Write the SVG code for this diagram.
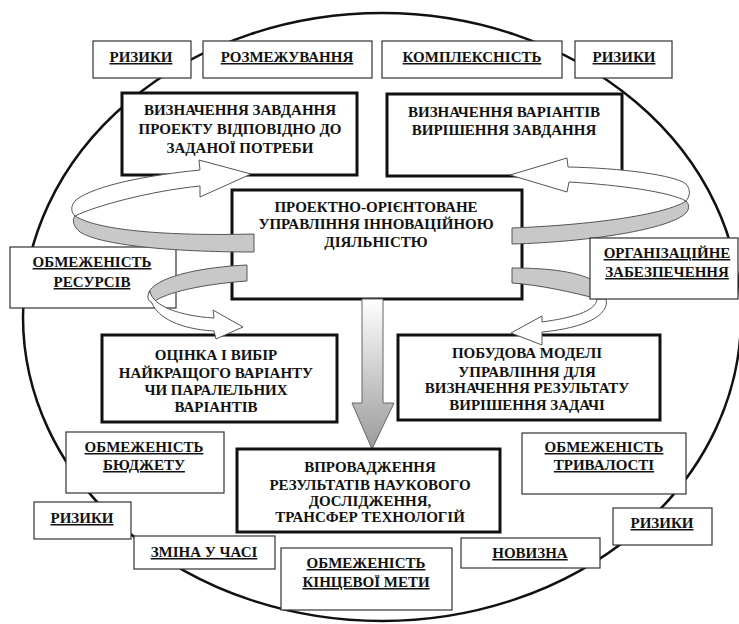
<svg xmlns="http://www.w3.org/2000/svg" width="739" height="624" viewBox="0 0 739 624">
<defs>
<style>
.t{font-family:'Liberation Serif','Times New Roman','DejaVu Serif',serif;font-weight:700;font-size:15px;text-anchor:middle;fill:#111}
.u{text-decoration:underline}
.big{fill:#fff;stroke:#111;stroke-width:3}
.sm{fill:#fff;stroke:#333;stroke-width:1.2}
.wh{fill:#fff;stroke:#555;stroke-width:1}
.gr{fill:#c8c8c8;stroke:#555;stroke-width:1}
</style>
<linearGradient id="dg" gradientUnits="userSpaceOnUse" x1="0" y1="299" x2="0" y2="449">
<stop offset="0" stop-color="#ffffff"/>
<stop offset="1" stop-color="#9a9a9a"/>
</linearGradient>
</defs>
<rect width="739" height="624" fill="#fff"/>
<ellipse cx="382" cy="317" rx="359" ry="304" fill="none" stroke="#111" stroke-width="2.5"/>

<g id="n-ryzyky1"><rect class="sm" x="93" y="41" width="98" height="37"/><text class="t u" x="141" y="62" font-family="Liberation Serif, serif">РИЗИКИ</text></g>
<g id="n-rozmezh"><rect class="sm" x="203" y="41" width="169" height="37"/><text class="t u" x="287" y="62">РОЗМЕЖУВАННЯ</text></g>
<g id="n-kompl"><rect class="sm" x="382" y="41" width="180" height="37"/><text class="t u" x="472" y="62">КОМПЛЕКСНІСТЬ</text></g>
<g id="n-ryzyky2"><rect class="sm" x="575" y="41" width="97" height="37"/><text class="t u" x="624" y="62">РИЗИКИ</text></g>

<g id="n-task"><rect class="big" x="122" y="93" width="235" height="82"/>
<text class="t" x="240" y="115">ВИЗНАЧЕННЯ ЗАВДАННЯ</text>
<text class="t" x="240" y="134">ПРОЕКТУ ВІДПОВІДНО ДО</text>
<text class="t" x="240" y="153">ЗАДАНОЇ ПОТРЕБИ</text></g>
<g id="n-variants"><rect class="big" x="387" y="94" width="235" height="82"/>
<text class="t" x="504" y="117">ВИЗНАЧЕННЯ ВАРІАНТІВ</text>
<text class="t" x="504" y="135">ВИРІШЕННЯ ЗАВДАННЯ</text></g>

<g id="n-center"><rect class="big" x="232" y="190" width="290" height="109"/>
<text class="t" x="376" y="212">ПРОЕКТНО-ОРІЄНТОВАНЕ</text>
<text class="t" x="376" y="229">УПРАВЛІННЯ ІННОВАЦІЙНОЮ</text>
<text class="t" x="376" y="247">ДІЯЛЬНІСТЮ</text></g>

<g id="n-resources"><rect class="sm" x="10" y="247" width="166" height="61"/>
<text class="t u" x="92" y="267">ОБМЕЖЕНІСТЬ</text>
<text class="t u" x="92" y="287">РЕСУРСІВ</text></g>

<g id="n-eval"><rect class="big" x="102" y="335" width="235" height="87"/>
<text class="t" x="216" y="360">ОЦІНКА І ВИБІР</text>
<text class="t" x="216" y="378">НАЙКРАЩОГО ВАРІАНТУ</text>
<text class="t" x="216" y="395">ЧИ ПАРАЛЕЛЬНИХ</text>
<text class="t" x="216" y="412">ВАРІАНТІВ</text></g>
<g id="n-model"><rect class="big" x="398" y="335" width="262" height="85"/>
<text class="t" x="527" y="358">ПОБУДОВА МОДЕЛІ</text>
<text class="t" x="527" y="377">УПРАВЛІННЯ ДЛЯ</text>
<text class="t" x="527" y="393">ВИЗНАЧЕННЯ РЕЗУЛЬТАТУ</text>
<text class="t" x="527" y="410">ВИРІШЕННЯ ЗАДАЧІ</text></g>

<g id="connectors">
<path class="gr" d="M75 216 C100 232 180 236 254 234 L254 252 C170 252 100 245 80 232 C73 226 72 220 75 216 Z"/>
<path class="wh" d="M200 170 C150 175 95 185 76 200 C70 206 71 212 75 216 C95 206 150 191 200 186 L200 197 L251 174 L199 160 Z"/>
<path class="gr" d="M686 201 C665 215 590 225 512 228 L512 244 C590 242 670 229 686 213 C690 208 689 204 686 201 Z"/>
<path class="wh" d="M568 167 C620 168 675 175 686 184 C691 190 690 196 686 201 C670 192 620 185 569 182 L567 192 L510 175 L567 158 Z"/>
<path class="gr" d="M247 265 C205 267 162 275 150 290 C147 295 148 300 152 303 C165 292 205 284 247 281 Z"/>
<path class="wh" d="M152 303 C147 300 147 296 150 291 C152 306 180 316 214 318 L213 310 L243 327 L216 339 L214 331 C180 329 158 318 152 303 Z"/>
<path class="gr" d="M512 268 C550 268 580 272 596 282 L602 300 C572 292 540 285 512 283 Z"/>
<path class="wh" d="M597 299 L606 299 C610 315 585 328 542 332 L542 345 L511 333 L542 316 L542 322 C570 318 596 312 597 299 Z"/>
<path d="M362 299 L383 299 L383 403 L394 403 L372 449 L352 403 L362 403 Z" fill="url(#dg)" stroke="#666" stroke-width="1"/>
</g>

<g id="n-org"><rect class="sm" x="590" y="238" width="148" height="61"/>
<text class="t u" x="667" y="258">ОРГАНІЗАЦІЙНЕ</text>
<text class="t u" x="667" y="277">ЗАБЕЗПЕЧЕННЯ</text></g>

<g id="n-impl"><rect class="big" x="237" y="449" width="263" height="83"/>
<text class="t" x="370" y="472">ВПРОВАДЖЕННЯ</text>
<text class="t" x="370" y="490">РЕЗУЛЬТАТІВ НАУКОВОГО</text>
<text class="t" x="370" y="506">ДОСЛІДЖЕННЯ,</text>
<text class="t" x="370" y="522">ТРАНСФЕР ТЕХНОЛОГІЙ</text></g>

<g id="n-budget"><rect class="sm" x="66" y="432" width="158" height="61"/>
<text class="t u" x="144" y="452">ОБМЕЖЕНІСТЬ</text>
<text class="t u" x="144" y="470">БЮДЖЕТУ</text></g>
<g id="n-ryzyky3"><rect class="sm" x="34" y="502" width="97" height="37"/><text class="t u" x="82" y="523">РИЗИКИ</text></g>
<g id="n-time"><rect class="sm" x="134" y="536" width="141" height="33"/><text class="t u" x="204" y="557">ЗМІНА У ЧАСІ</text></g>
<g id="n-goal"><rect class="sm" x="281" y="548" width="171" height="62"/>
<text class="t u" x="366" y="568">ОБМЕЖЕНІСТЬ</text>
<text class="t u" x="366" y="587">КІНЦЕВОЇ МЕТИ</text></g>
<g id="n-novelty"><rect class="sm" x="461" y="538" width="139" height="30"/><text class="t u" x="530" y="558">НОВИЗНА</text></g>
<g id="n-duration"><rect class="sm" x="522" y="433" width="164" height="61"/>
<text class="t u" x="604" y="452">ОБМЕЖЕНІСТЬ</text>
<text class="t u" x="604" y="470">ТРИВАЛОСТІ</text></g>
<g id="n-ryzyky4"><rect class="sm" x="613" y="508" width="99" height="37"/><text class="t u" x="662" y="528">РИЗИКИ</text></g>
</svg>
